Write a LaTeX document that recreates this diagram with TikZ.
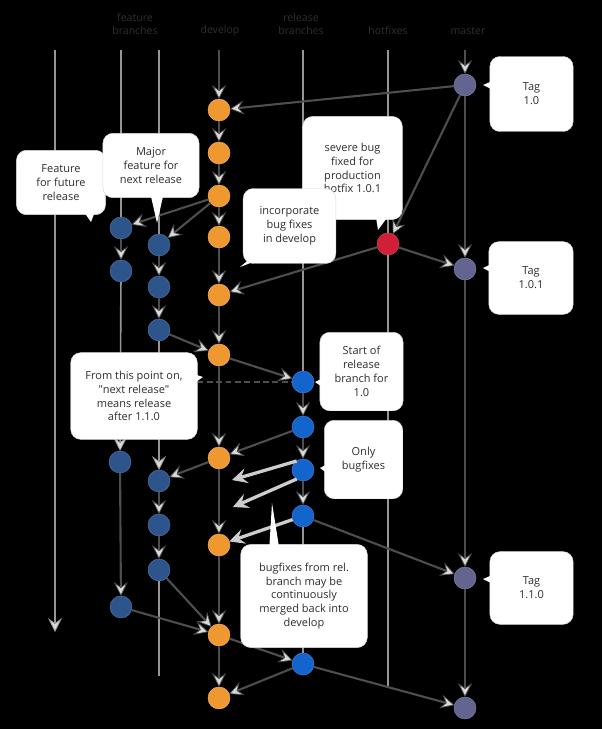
\documentclass[tikz,border=0pt]{standalone}
\usepackage{fontspec}
\setmainfont{Open Sans}
\usetikzlibrary{arrows.meta, calc, positioning}
\definecolor{devc}{RGB}{240,152,48}
\definecolor{featc}{RGB}{45,85,140}
\definecolor{relc}{RGB}{20,100,205}
\definecolor{mastc}{RGB}{100,100,145}
\definecolor{hotc}{RGB}{210,30,55}
\definecolor{linec}{RGB}{78,78,78}
\definecolor{lanec}{RGB}{150,150,150}
\definecolor{backc}{RGB}{205,205,205}
\definecolor{headc}{RGB}{48,48,48}
\definecolor{textc}{RGB}{45,45,45}

\begin{document}
\begin{tikzpicture}[x=0.03cm, y=-0.03cm,% styles used in image code
         > = {Stealth[length=12pt, width=12pt, inset=4.5pt, line width=0.6pt,
                      fill=gray!30]},
dot/.style = {circle, minimum size=6.6mm, inner sep=0pt, outer sep=0pt,
              thin, node contents={}},
dev/.style = {dot, fill=devc, draw=devc!70!white},
feat/.style = {dot, fill=featc, draw=featc!80!white},
rel/.style = {dot, fill=relc, draw=relc!80!white},
mast/.style = {dot, fill=mastc, draw=mastc!80!white},
hot/.style = {dot, fill=hotc, draw=hotc!80!white},
flow/.style = {draw=linec, line width=1.8pt, ->},
lane/.style = {draw=lanec, line width=1.4pt},
back/.style = {draw=backc, line width=2.8pt,
              -{Stealth[length=13pt, width=13pt, inset=5pt, line width=0.6pt,
                        fill=backc]}},
note/.style = {fill=white, draw=gray!30, rounded corners=3mm, align=center,
              inner sep=0pt, text=textc,
              font=\fontsize{9.4}{11.8}\selectfont},
head/.style = {text=headc, align=center,
              font=\fontsize{9}{10.5}\selectfont}
                    ]
    \useasboundingbox (0,0) rectangle (602,729);
    \fill[black] (0,0) rectangle (602,729);

    % column titles
    \node[head] (hfeat) at (135,24) {feature\\branches};
    \node[head] (hdev)  at (220,31) {develop};
    \node[head] (hrel)  at (301,24) {release\\branches};
    \node[head] (hhot)  at (388,31) {hotfixes};
    \node[head] (hmast) at (468,31) {master};

    % commits
    \node (M1) at (465,85)  [mast];
    \node (M2) at (465,269) [mast];
    \node (M3) at (465,578) [mast];
    \node (M4) at (465,708) [mast];
    \node (H1) at (388,244) [hot];
    \node (D1) at (219,110) [dev];
    \node (D2) at (219,153) [dev];
    \node (D3) at (219,196) [dev];
    \node (D4) at (219,237) [dev];
    \node (D5) at (219,295) [dev];
    \node (D6) at (219,355) [dev];
    \node (D7) at (219,458) [dev];
    \node (D8) at (219,545) [dev];
    \node (D9) at (219,635) [dev];
    \node (D10) at (219,698) [dev];
    \node (F1a) at (121,228) [feat];
    \node (F1b) at (121,271) [feat];
    \node (F1c) at (120,462) [feat];
    \node (F1d) at (121,607) [feat];
    \node (F2a) at (159,245) [feat];
    \node (F2b) at (159,287) [feat];
    \node (F2c) at (159,330) [feat];
    \node (F2d) at (159,481) [feat];
    \node (F2e) at (159,525) [feat];
    \node (F2f) at (159,570) [feat];
    \node (R1) at (303,382) [rel];
    \node (R2) at (303,427) [rel];
    \node (R3) at (303,470) [rel];
    \node (R4) at (303,516) [rel];
    \node (R5) at (303,664) [rel];

    % ends of the lanes
    \coordinate (top0) at (55,50);
    \coordinate (bot0) at (55,632);
    \coordinate (top1) at (121,50);
    \coordinate (top2) at (159,50);
    \coordinate (bot2) at (159,676);
    \coordinate (topD) at (219,50);
    \coordinate (topR) at (303,50);
    \coordinate (topH) at (388,50);
    \coordinate (botH) at (388,688);
    \coordinate (topM) at (465,50);
    \coordinate (bf1) at (232,480);
    \coordinate (bf2) at (233,507);

    % lanes
    \draw[lane,->] (top0) -- (bot0);
    \draw[lane] (top1) -- (F1a);
    \draw[lane] (top2) -- (F2a);
    \draw[lane] (topR) -- (R1);
    \draw[lane] (topH) -- (H1);
    \draw[lane] (H1) -- (botH);
    \draw[lane,->] (F1b) -- (F1c);
    \draw[lane,->] (F2c) -- (F2d);
    \draw[lane] (F2f) -- (bot2);
    \draw[lane] (R4) -- (R5);
    \draw[flow] (topD) -- (D1);
    \draw[flow] (topM) -- (M1);

    % develop and master
    \foreach \a/\b in {D1/D2, D2/D3, D3/D4, D4/D5, D5/D6, D6/D7, D7/D8,
                       D8/D9, D9/D10, M1/M2, M2/M3, M3/M4}
        \draw[flow] (\a) -- (\b);

    % hotfix
    \draw[flow] (M1) -- (D1);
    \draw[flow] (M1) -- (H1);
    \draw[flow] (H1) -- (M2);
    \draw[flow] (H1) -- (D5);

    % features
    \draw[flow] (D3) -- (F1a);
    \draw[flow] (D3) -- (F2a);
    \draw[flow] (F1a) -- (F1b);
    \draw[flow] (F2a) -- (F2b);
    \draw[flow] (F2b) -- (F2c);
    \draw[flow] (F2c) -- (D6);
    \draw[flow] (D7) -- (F2d);
    \draw[flow] (F2d) -- (F2e);
    \draw[flow] (F2e) -- (F2f);
    \draw[flow] (F1c) -- (F1d);
    \draw[flow] (F1d) -- (D9);
    \draw[flow] (F2f) -- (D9);

    % release
    \draw[flow] (D6) -- (R1);
    \draw[flow] (R1) -- (R2);
    \draw[flow] (R2) -- (R3);
    \draw[flow] (R3) -- (R4);
    \draw[flow] (R2) -- (D7);
    \draw[back] (R3.125) -- (bf1);
    \draw[back] (R3.235) -- (bf2);
    \draw[back] (R4) -- (D8);
    \draw[flow] (R4) -- (M3);
    \draw[flow] (D9) -- (R5);
    \draw[flow] (R5) -- (D10);
    \draw[flow] (R5) -- (M4);

    % callouts
    \node[note, minimum width=71, minimum height=64] (tag1) at (531.5,94) {Tag\\1.0};
    \fill[white] (497,79) -- (483,85) -- (497,92) -- cycle;
    \node[note, minimum width=72, minimum height=62] (tag2) at (531,278) {Tag\\1.0.1};
    \fill[white] (496,262) -- (483,268) -- (496,275) -- cycle;
    \node[note, minimum width=71, minimum height=62] (tag3) at (531.5,588) {Tag\\1.1.0};
    \fill[white] (497,573) -- (483,579) -- (497,586) -- cycle;
    \node[note, minimum width=85, minimum height=88] (severe) at (352.5,168)
        {severe bug\\fixed for\\production\\hotfix 1.0.1};
    \fill[white] (375,211) -- (378,230) -- (392,211) -- cycle;
    \node[note, minimum width=79, minimum height=64] (incorp) at (289.5,226)
        {incorporate\\bug fixes\\in develop};
    \fill[white] (252,257) -- (240,267) -- (266,257) -- cycle;
    \node[note, minimum width=76, minimum height=55] (future) at (61,182.5)
        {Feature\\for future\\release};
    \fill[white] (82,209) -- (91,222) -- (96,209) -- cycle;
    \node[note, minimum width=82, minimum height=55] (major) at (151,165.5)
        {Major\\feature for\\next release};
    \fill[white] (150,192) -- (157,223) -- (164,192) -- cycle;
    \node[note, minimum width=108, minimum height=74] (point) at (134,396)
        {From this point on,\\{\addfontfeature{Ligatures=TeXOff}"next release"}\\means release\\after 1.1.0};
    \fill[white] (187,372) -- (203,377) -- (187,388) -- cycle;
    \draw[linec, line width=1.5pt, dash pattern=on 5pt off 3pt]
        (point.east |- R1) -- (R1);
    \node[note, minimum width=71, minimum height=67] (start) at (361.5,371.5)
        {Start of\\release\\branch for\\1.0};
    \fill[white] (327,376) -- (315,382) -- (327,390) -- cycle;
    \node[note, minimum width=67, minimum height=67] (only) at (363.5,459.5)
        {Only\\bugfixes};
    \fill[white] (331,462) -- (320,468) -- (331,476) -- cycle;
    \node[note, minimum width=108, minimum height=88] (merge) at (304,596)
        {bugfixes from rel.\\branch may be\\continuously\\merged back into\\develop};
    \fill[white] (269,553) -- (272,503) -- (280,553) -- cycle;
\end{tikzpicture}
\end{document}
